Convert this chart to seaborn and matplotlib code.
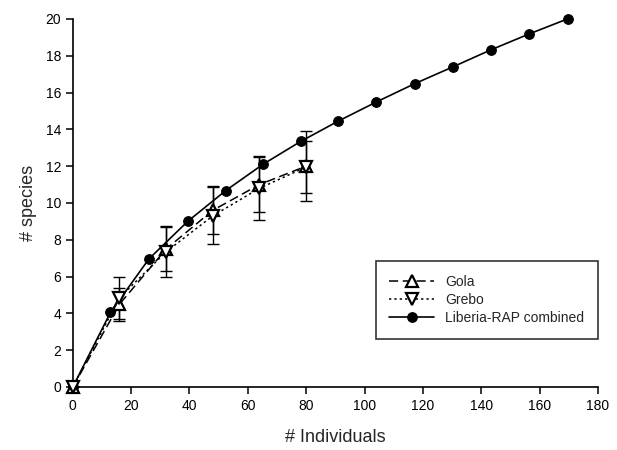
import matplotlib
matplotlib.use('Agg')
import matplotlib.pyplot as plt
import seaborn as sns
import pandas as pd

# Dados
gola_x = [0, 16, 32, 48, 64, 80]
gola_y = [0, 4.5, 7.5, 9.6, 11.0, 12.0]
gola_err = [0, 0.9, 1.2, 1.3, 1.5, 1.9]

grebo_x = [0, 16, 32, 48, 64, 80]
grebo_y = [0, 4.85, 7.35, 9.3, 10.8, 11.95]
grebo_err = [0, 1.15, 1.4, 1.55, 1.75, 1.4]

comb_x = [0, 12.9, 26.1, 39.4, 52.4, 65.2, 78.2, 90.8, 104.1, 117.2, 130.4, 143.2, 156.4, 169.6]
comb_y = [0, 4.05, 6.96, 9.0, 10.67, 12.1, 13.35, 14.43, 15.49, 16.48, 17.4, 18.31, 19.18, 20.0]

sns.set_style('ticks')
plt.rcParams['font.family'] = ['Liberation Sans', 'DejaVu Sans']

fig = plt.figure(figsize=(6.17, 4.5), dpi=100)
ax = fig.add_axes([0.118, 0.14, 0.851, 0.818])

df_gola = pd.DataFrame({'x': gola_x, 'y': gola_y})
df_grebo = pd.DataFrame({'x': grebo_x, 'y': grebo_y})
df_comb = pd.DataFrame({'x': comb_x, 'y': comb_y})

# Barras de erro
ax.errorbar(gola_x, gola_y, yerr=gola_err, fmt='none', ecolor='black',
            elinewidth=1, capsize=4, capthick=1, zorder=2)
ax.errorbar(grebo_x, grebo_y, yerr=grebo_err, fmt='none', ecolor='black',
            elinewidth=1, capsize=4, capthick=1, zorder=2)

sns.lineplot(data=df_comb, x='x', y='y', ax=ax, color='black', lw=1.2,
             marker='o', markersize=7, markerfacecolor='black',
             markeredgecolor='black', label='Liberia-RAP combined',
             zorder=3, clip_on=False)
sns.lineplot(data=df_gola, x='x', y='y', ax=ax, color='black', lw=1.1,
             linestyle=(0, (6, 3)), marker='^', markersize=9,
             markerfacecolor='white', markeredgecolor='black',
             markeredgewidth=1.6, label='Gola', zorder=4, clip_on=False)
sns.lineplot(data=df_grebo, x='x', y='y', ax=ax, color='black', lw=1.1,
             linestyle=(0, (1.5, 2)), marker='v', markersize=9,
             markerfacecolor='white', markeredgecolor='black',
             markeredgewidth=1.6, label='Grebo', zorder=4, clip_on=False)

ax.set_xlim(0, 180)
ax.set_ylim(0, 20)
ax.set_xticks(range(0, 181, 20))
ax.set_yticks(range(0, 21, 2))
sns.despine(ax=ax)
for s in ['left', 'bottom']:
    ax.spines[s].set_linewidth(1.2)
    ax.spines[s].set_color('black')
ax.tick_params(axis='both', labelsize=10, length=5, width=1.1, colors='black', direction='out')

ax.set_xlabel('# Individuals', fontsize=13, labelpad=12)
ax.set_ylabel('# species', fontsize=13, labelpad=6)

handles, labels = ax.get_legend_handles_labels()
order = [labels.index('Gola'), labels.index('Grebo'), labels.index('Liberia-RAP combined')]
leg = ax.legend([handles[i] for i in order], [labels[i] for i in order],
                loc='lower right', bbox_to_anchor=(1.0, 0.13), borderaxespad=0,
                fontsize=10, frameon=True, fancybox=False, edgecolor='black',
                handlelength=3.2, borderpad=1.0, labelspacing=0.3)
leg.get_frame().set_linewidth(1.2)

plt.savefig('out.png', dpi=100)
